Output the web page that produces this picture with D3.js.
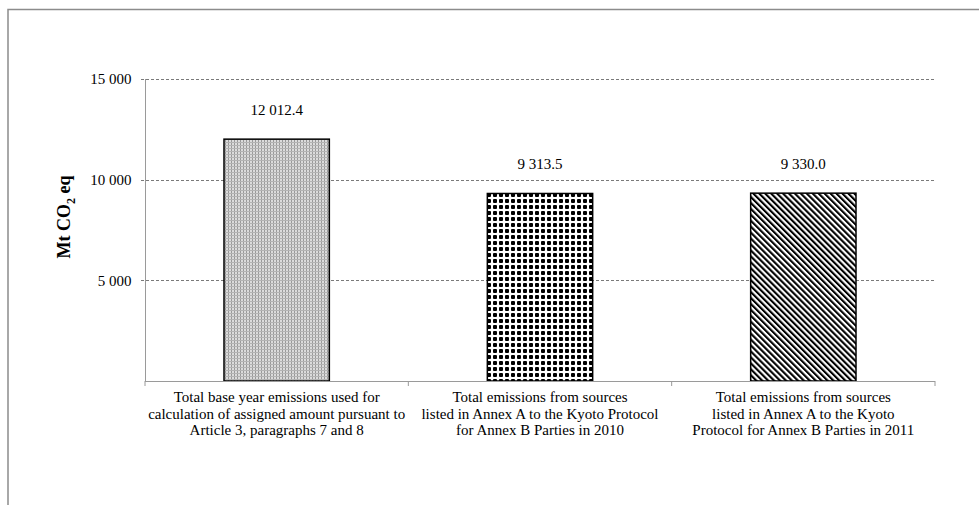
<!DOCTYPE html>
<html>
<head>
<meta charset="utf-8">
<script src="https://cdnjs.cloudflare.com/ajax/libs/d3/7.8.5/d3.min.js"></script>
<style>
  body { margin: 0; background: #fff; }
  svg { display: block; font-family: "Liberation Serif", "Times New Roman", serif; }
</style>
</head>
<body>
<svg id="chart" width="979" height="505"></svg>
<script>
// categories, wrapped as in the source figure
const categories = [
  ["Total base year emissions used for", "calculation of assigned amount pursuant to", "Article 3, paragraphs 7 and 8"],
  ["Total emissions from sources", "listed in Annex A to the Kyoto Protocol", "for Annex B Parties in 2010"],
  ["Total emissions from sources", "listed in Annex A to the Kyoto", "Protocol for Annex B Parties in 2011"]
];
const values = [12012.4, 9313.5, 9330.0];
const fills = ["url(#pat-grey)", "url(#pat-dots)", "url(#pat-diag)"];
const yTicks = [5000, 10000, 15000];

const svg = d3.select('#chart');
const margin = { top: 79, right: 44, bottom: 124, left: 145 };
const W = 979, H = 505;

// frame around the whole chart (runs off the page at right/bottom)
svg.append("rect")
  .attr("x", 8).attr("y", 9.5)
  .attr("width", 1000).attr("height", 600)
  .attr("fill", "none")
  .attr("stroke", "#8c8c8c")
  .attr("stroke-width", 1.5);

// fill patterns
const defs = svg.append("defs");

const pg = defs.append("pattern").attr("id", "pat-grey")
  .attr("patternUnits", "userSpaceOnUse").attr("width", 3).attr("height", 3);
pg.append("rect").attr("width", 3).attr("height", 3).attr("fill", "#dcdcdc");
pg.append("rect").attr("x", 0).attr("y", 0).attr("width", 1).attr("height", 3).attr("fill", "#9a9a9a");
pg.append("rect").attr("x", 0).attr("y", 1).attr("width", 3).attr("height", 1).attr("fill", "#b4b4b4");

const pd = defs.append("pattern").attr("id", "pat-dots")
  .attr("patternUnits", "userSpaceOnUse").attr("width", 6).attr("height", 6);
pd.append("rect").attr("width", 6).attr("height", 6).attr("fill", "#fff");
pd.append("rect").attr("x", 1).attr("y", 1.5).attr("width", 4).attr("height", 3).attr("fill", "#000");
pd.append("rect").attr("x", 1.5).attr("y", 1).attr("width", 3).attr("height", 4).attr("fill", "#000");

const ps = defs.append("pattern").attr("id", "pat-diag")
  .attr("patternUnits", "userSpaceOnUse").attr("width", 4.2).attr("height", 4.2)
  .attr("patternTransform", "rotate(-45)");
ps.append("rect").attr("width", 4.2).attr("height", 4.2).attr("fill", "#fff");
ps.append("rect").attr("x", 0).attr("y", 0).attr("width", 2.1).attr("height", 4.2).attr("fill", "#000");

// scales
const x = d3.scaleBand()
  .domain(d3.range(categories.length))
  .range([margin.left, W - margin.right])
  .paddingInner(0.6)
  .paddingOuter(0.3);

const y = d3.scaleLinear()
  .domain([0, 15000])
  .range([H - margin.bottom, margin.top]);

const fmt = v => d3.format(",")(v).replace(/,/g, " ");
const fmt1 = v => d3.format(",.1f")(v).replace(/,/g, " ");

// gridlines
svg.append("g")
  .selectAll("line")
  .data(yTicks)
  .join("line")
  .attr("x1", margin.left - 4)
  .attr("x2", W - margin.right)
  .attr("y1", d => Math.round(y(d)) + 0.5)
  .attr("y2", d => Math.round(y(d)) + 0.5)
  .attr("stroke", "#7a7a7a")
  .attr("stroke-width", 1)
  .attr("stroke-dasharray", "3,2");

// y axis
const yAxis = svg.append("g")
  .attr("transform", `translate(${margin.left + 0.5},0)`)
  .call(d3.axisLeft(y).tickValues(yTicks).tickSize(0).tickPadding(14).tickFormat(fmt));
yAxis.attr("font-family", null).attr("font-size", null);
yAxis.select(".domain").attr("stroke", "#9a9a9a").attr("d", `M0,${y(0)}V${y(15000)}`);
yAxis.selectAll("text")
  .attr("font-size", 15)
  .attr("fill", "#000");

// bars
svg.append("g")
  .selectAll("rect")
  .data(values)
  .join("rect")
  .attr("x", (d, i) => x(i))
  .attr("y", d => y(d))
  .attr("width", x.bandwidth())
  .attr("height", d => y(0) - y(d))
  .attr("fill", (d, i) => fills[i])
  .attr("stroke", "#000")
  .attr("stroke-width", 1.5);

// value labels
svg.append("g")
  .selectAll("text")
  .data(values)
  .join("text")
  .attr("x", (d, i) => x(i) + x.bandwidth() / 2)
  .attr("y", d => y(d) - 24)
  .attr("text-anchor", "middle")
  .attr("font-size", 15)
  .text(d => fmt1(d));

// x axis
const x0 = y(0);
const bounds = d3.range(categories.length + 1).map(i => margin.left + i * x.step());
svg.append("line")
  .attr("x1", margin.left).attr("x2", W - margin.right)
  .attr("y1", Math.round(x0) + 0.5).attr("y2", Math.round(x0) + 0.5)
  .attr("stroke", "#9a9a9a");
svg.append("g")
  .selectAll("line")
  .data(bounds)
  .join("line")
  .attr("x1", d => d).attr("x2", d => d)
  .attr("y1", x0).attr("y2", x0 + 5)
  .attr("stroke", "#9a9a9a");

// category labels
svg.append("g")
  .selectAll("text")
  .data(categories)
  .join("text")
  .attr("text-anchor", "middle")
  .attr("font-size", 15)
  .each(function (lines, i) {
    d3.select(this).selectAll("tspan")
      .data(lines)
      .join("tspan")
      .attr("x", x(i) + x.bandwidth() / 2)
      .attr("y", (l, j) => 402 + j * 16.7)
      .text(l => l);
  });

// y title
const yt = svg.append("text")
  .attr("transform", "translate(70,217) rotate(-90)")
  .attr("text-anchor", "middle")
  .attr("font-size", 18)
  .attr("font-weight", "bold");
yt.append("tspan").text("Mt CO");
yt.append("tspan").attr("font-size", 12).attr("dy", 5).text("2");
yt.append("tspan").attr("dy", -5).text(" eq");
</script>
</body>
</html>
